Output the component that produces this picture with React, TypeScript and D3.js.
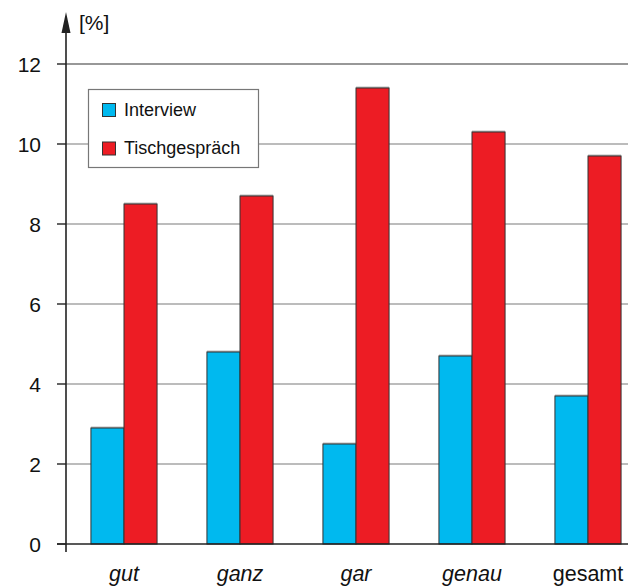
import React from "react";
import * as d3 from "d3";

const categories = ["gut", "ganz", "gar", "genau", "gesamt"];
const italicCats = [true, true, true, true, false];
const interviewValues = [2.9, 4.8, 2.5, 4.7, 3.7];
const tischValues = [8.5, 8.7, 11.4, 10.3, 9.7];
const seriesNames = ["Interview", "Tischgespräch"];
const yTicks = [0, 2, 4, 6, 8, 10, 12];

const W = 628;
const H = 587;
const colors = ["#00B9EF", "#ED1C24"];

export default function App() {
  const x0 = 66;
  const y = d3.scaleLinear().domain([0, 12]).range([544, 64]);
  const x = d3.scaleBand().domain(categories).range([66, 646]).paddingInner(0.43).paddingOuter(0.215);
  const xs = d3.scaleBand().domain(seriesNames).range([0, x.bandwidth()]);
  const font = "'Liberation Sans', Arial, sans-serif";
  const series = [interviewValues, tischValues];

  return (
    <svg width={W} height={H} style={{ position: "absolute", left: 0, top: 0, display: "block", background: "#fff" }}>
      {/* gridlines */}
      {yTicks.filter((t) => t > 0).map((t) => (
        <line key={t} x1={x0} x2={W} y1={y(t)} y2={y(t)} stroke={t === 12 ? "#333" : "#7a7a7a"} strokeWidth={1.2} />
      ))}
      {/* bars */}
      {categories.map((c, i) => (
        <g key={c}>
          {series.map((vals, s) => {
            const bx = (x(c) as number) + (xs(seriesNames[s]) as number);
            return (
              <g key={s}>
                <rect x={bx} y={y(vals[i]) - 1.5} width={xs.bandwidth()} height={1.5} fill="#bbb" />
                <rect x={bx} y={y(vals[i])} width={xs.bandwidth()} height={y(0) - y(vals[i])} fill={colors[s]} stroke="#333" strokeWidth={1} />
              </g>
            );
          })}
          <text x={(x(c) as number) + x.bandwidth() / 2} y={581} textAnchor="middle" fontFamily={font} fontSize={21.5} fontStyle={italicCats[i] ? "italic" : "normal"} fill="#111">
            {c}
          </text>
        </g>
      ))}
      {/* baseline */}
      <line x1={57} x2={W} y1={y(0)} y2={y(0)} stroke="#222" strokeWidth={1.6} />
      {/* y axis */}
      <line x1={x0} x2={x0} y1={552} y2={28} stroke="#222" strokeWidth={1.6} />
      <path d={`M${x0 - 4.5},33 L${x0},12 L${x0 + 4.5},33 Z`} fill="#222" />
      {yTicks.map((t) => (
        <g key={t}>
          <line x1={57} x2={x0} y1={y(t)} y2={y(t)} stroke="#222" strokeWidth={1.4} />
          <text x={41} y={y(t) + 7.5} textAnchor="end" fontFamily={font} fontSize={21} fill="#111">
            {t}
          </text>
        </g>
      ))}
      <text x={79} y={30} fontFamily={font} fontSize={21} fill="#111">[%]</text>
      {/* legend */}
      <rect x={88.5} y={89.5} width={170} height={78} fill="#fff" stroke="#777" strokeWidth={1.2} />
      {seriesNames.map((n, s) => (
        <g key={n}>
          <rect x={102.5} y={103.5 + s * 38.5} width={13} height={13} fill={colors[s]} stroke="#333" strokeWidth={1} />
          <text x={124} y={116 + s * 38} fontFamily={font} fontSize={18} fill="#111">{n}</text>
        </g>
      ))}
    </svg>
  );
}
